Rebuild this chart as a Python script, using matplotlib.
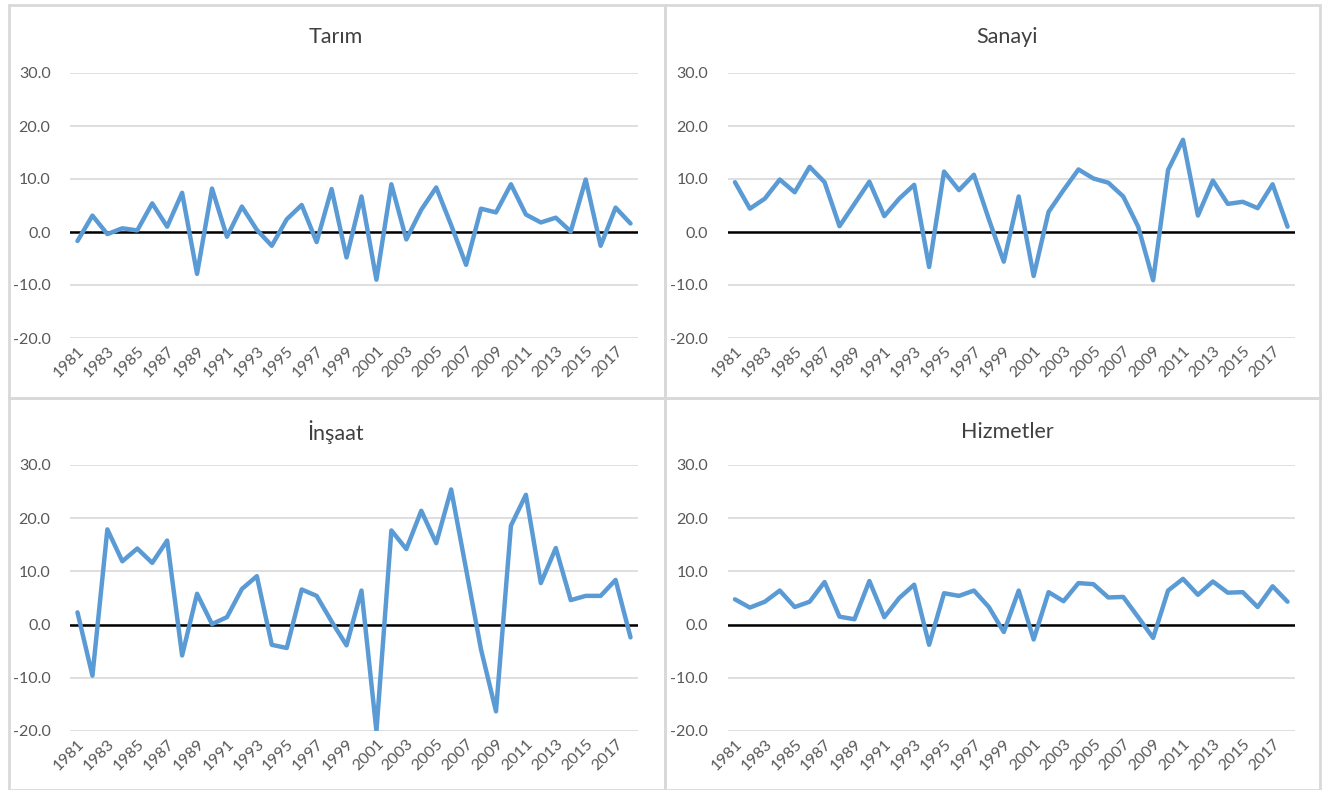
import matplotlib
matplotlib.use("Agg")
import matplotlib.pyplot as plt
from matplotlib.patches import Rectangle

plt.rcParams['font.family'] = ['Lato', 'DejaVu Sans']

years = list(range(1981, 2019))

tarim = [-1.7, 3.1, -0.4, 0.7, 0.3, 5.4, 1.0, 7.4, -7.9, 8.2,
         -0.9, 4.8, 0.4, -2.6, 2.4, 5.1, -1.9, 8.1, -4.8, 6.7,
         -9.0, 9.0, -1.4, 4.2, 8.4, 1.3, -6.2, 4.4, 3.7, 9.0,
         3.3, 1.8, 2.7, 0.1, 9.9, -2.6, 4.6, 1.6]

sanayi = [9.4, 4.4, 6.3, 9.9, 7.5, 12.3, 9.4, 1.1, 5.3, 9.5,
          3.0, 6.3, 8.9, -6.6, 11.4, 7.9, 10.8, 2.4, -5.6, 6.7,
          -8.3, 3.8, 7.9, 11.8, 10.1, 9.3, 6.7, 1.0, -9.1, 11.7,
          17.4, 3.1, 9.7, 5.3, 5.7, 4.5, 9.0, 1.0]

insaat = [2.3, -9.6, 17.9, 11.9, 14.3, 11.6, 15.8, -5.8, 5.8, 0.1,
          1.4, 6.7, 9.1, -3.8, -4.4, 6.6, 5.4, 0.6, -3.9, 6.4,
          -20.0, 17.7, 14.2, 21.4, 15.3, 25.4, 10.4, -4.7, -16.3, 18.6,
          24.4, 7.8, 14.4, 4.6, 5.4, 5.4, 8.4, -2.4]

hizmetler = [4.75, 3.2, 4.3, 6.4, 3.3, 4.3, 8.0, 1.5, 1.0, 8.2,
             1.4, 5.0, 7.5, -3.8, 5.9, 5.4, 6.4, 3.3, -1.4, 6.4,
             -2.8, 6.1, 4.4, 7.8, 7.6, 5.1, 5.2, 1.4, -2.5, 6.4,
             8.6, 5.6, 8.1, 6.0, 6.1, 3.3, 7.2, 4.3]

titles = ["Tarım", "Sanayi", "İnşaat", "Hizmetler"]
series = [tarim, sanayi, insaat, hizmetler]
yticks = [-20, -10, 0, 10, 20, 30]

W, H = 1329, 790
fig = plt.figure(figsize=(W / 100, H / 100), dpi=100)

def fx(x):
    return x / W

def fy(y):
    return 1 - y / H

# panel frames (pixel coords: x0, y0, x1, y1)
panels = [(9, 5, 665, 398), (665, 5, 1320, 398), (9, 398, 665, 790), (665, 398, 1320, 790)]
for (x0, y0, x1, y1) in panels:
    fig.patches.append(Rectangle((fx(x0), fy(y1)), fx(x1 - x0), (y1 - y0) / H,
                                 transform=fig.transFigure, fill=False,
                                 edgecolor='#D9D9D9', linewidth=2))

# plot areas (pixel): left, right, top(30), bottom(-20)
areas = [(70, 638, 73, 338), (727.5, 1295, 73, 338), (70, 638, 465, 731), (727.5, 1295, 465, 731)]
title_y = [37, 37, 432, 432]
title_x = [336, 1007, 336, 1007]

n = len(years)
xs = list(range(n))
for i, (l, r, t, b) in enumerate(areas):
    ax = fig.add_axes([fx(l), fy(b), fx(r - l), (b - t) / H])
    ax.set_xlim(-0.5, n - 0.5)
    ax.set_ylim(-20, 30)
    for s in ax.spines.values():
        s.set_visible(False)
    ax.set_yticks(yticks)
    ax.set_yticklabels([f"{v:.1f}" for v in yticks], color='#595959', fontsize=11.5)
    ax.yaxis.grid(True, color='#D9D9D9', linewidth=1.2)
    ax.set_axisbelow(True)
    ax.axhline(0, color='black', linewidth=1.8, zorder=2)
    ax.plot(xs, series[i], color='#5B9BD5', linewidth=3.2, zorder=3,
            solid_joinstyle='round', solid_capstyle='round')
    ax.set_xticks(xs[::2])
    ax.set_xticklabels([str(y) for y in years[::2]], rotation=45, ha='right',
                       va='top', rotation_mode='anchor', color='#595959', fontsize=11.5)
    ax.tick_params(axis='both', length=0)
    ax.tick_params(axis='y', pad=14)
    ax.tick_params(axis='x', pad=4)
    fig.text(fx(title_x[i]), fy(title_y[i]), titles[i], ha='center', va='center',
             fontsize=15.5, color='#404040')

fig.savefig("out.png", dpi=100, facecolor='white')
